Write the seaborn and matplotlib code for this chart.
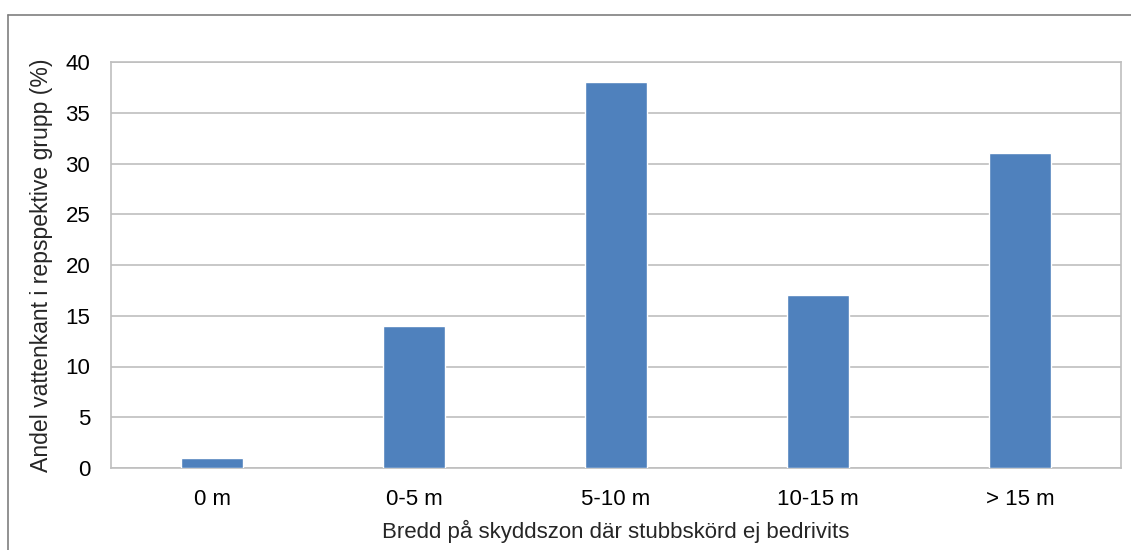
import matplotlib
matplotlib.use('Agg')
import matplotlib.pyplot as plt
import seaborn as sns
import pandas as pd
from matplotlib.lines import Line2D

categories = ['0 m', '0-5 m', '5-10 m', '10-15 m', '> 15 m']
values = [1, 14, 38, 17, 31]
y_ticks = [0, 5, 10, 15, 20, 25, 30, 35, 40]

sns.set_style("white")
plt.rcParams['font.family'] = ['Liberation Sans', 'DejaVu Sans']

W, H = 1131, 550
fig = plt.figure(figsize=(W / 100, H / 100), dpi=100)
ax = fig.add_axes([111 / W, 1 - 468 / H, (1121 - 111) / W, (468 - 62) / H])

df = pd.DataFrame({'cat': categories, 'val': values})
sns.barplot(data=df, x='cat', y='val', color='#4F81BD', saturation=1,
            width=0.31, ax=ax, zorder=3)

grid_c = '#BFBFBF'
ax.set_ylim(0, 40)
ax.set_yticks(y_ticks)
ax.yaxis.grid(True, color=grid_c, linewidth=1.2, zorder=0)
ax.set_axisbelow(True)
for side in ['left', 'right', 'top', 'bottom']:
    ax.spines[side].set_color(grid_c)
    ax.spines[side].set_linewidth(1.2)
ax.tick_params(axis='both', length=0, labelsize=16, colors='black')
ax.tick_params(axis='x', pad=15)
ax.tick_params(axis='y', pad=15)
ax.set_xlabel('Bredd på skyddszon där stubbskörd ej bedrivits', fontsize=16, labelpad=7)
ax.set_ylabel('Andel vattenkant i repspektive grupp (%)', fontsize=16.6, labelpad=9)

# outer chart border
fig.add_artist(Line2D([8 / W, 8 / W], [0, 1 - 15 / H], transform=fig.transFigure,
                      color='#7F7F7F', linewidth=1.2))
fig.add_artist(Line2D([8 / W, 1], [1 - 15 / H, 1 - 15 / H], transform=fig.transFigure,
                      color='#7F7F7F', linewidth=1.2))

fig.savefig('out.png', dpi=100)
